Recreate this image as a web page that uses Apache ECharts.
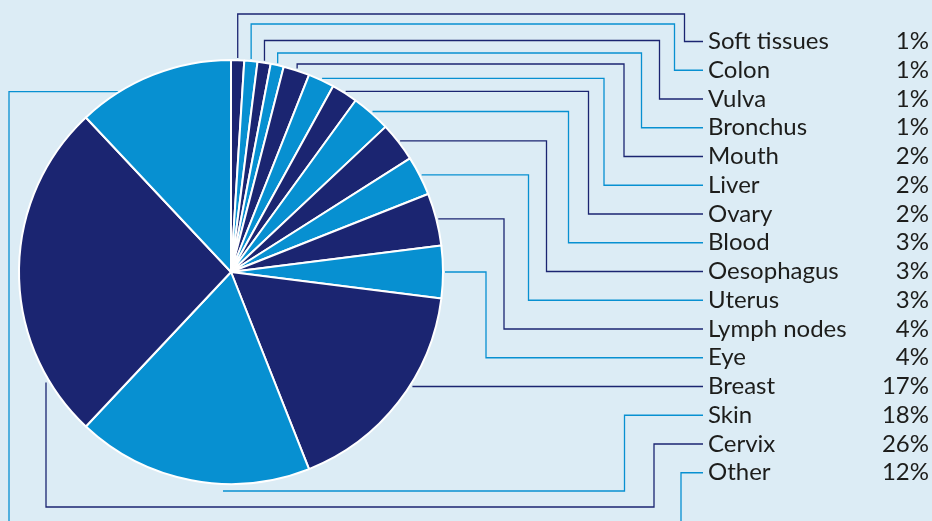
<!DOCTYPE html>
<html>
<head>
<meta charset="utf-8">
<script src="https://cdn.jsdelivr.net/npm/echarts@6/dist/echarts.min.js"></script>
<style>
  html, body { margin: 0; padding: 0; background: #dcecf5; }
  #chart { width: 932px; height: 521px; }
</style>
</head>
<body>
<div id="chart"></div>
<script>
// ---- Data ----
const categories = ['Soft tissues', 'Colon', 'Vulva', 'Bronchus', 'Mouth', 'Liver', 'Ovary', 'Blood',
  'Oesophagus', 'Uterus', 'Lymph nodes', 'Eye', 'Breast', 'Skin', 'Cervix', 'Other'];
const shares = [1, 1, 1, 1, 2, 2, 2, 3, 3, 3, 4, 4, 17, 18, 26, 12];

// ---- Style / layout ----
const DARK = '#1b2571';
const LIGHT = '#0790d1';
const CX = 231, CY = 272, R = 212;
const ROW0 = 41.5, ROW_STEP = 28.75;
const LINE_END = 703, LABEL_X = 708;
// leader-line routing (layout only)
const TOP_RUN = [14, 24, 40.5, 53, 64];
const ELBOW_X = [684.5, 674.5, 659.5, 641.5, 624, 604, 588.5, 568.5, 546.5, 528.5, 504, 486];
const SKIN_ROUTE = { dx: -8, gap: 7, elbow: 624.5 };
const CERVIX_ROUTE = { x: 46, gap: 7, bottom: 507, elbow: 654 };
const OTHER_ROUTE = { run: 91.7, left: 9, bottom: 545, elbow: 681 };

const total = shares.reduce((a, b) => a + b, 0);
function midAngle(i) {
  let c = 0;
  for (let k = 0; k < i; k++) c += shares[k];
  return (c + shares[i] / 2) / total * 2 * Math.PI; // clockwise from 12 o'clock
}
function edgePoint(a, rr) { return [CX + rr * Math.sin(a), CY - rr * Math.cos(a)]; }
function circleX(y, side) { return CX + side * Math.sqrt(Math.max(0, R * R - (y - CY) * (y - CY))); }
function circleY(x, side) { return CY + side * Math.sqrt(Math.max(0, R * R - (x - CX) * (x - CX))); }

function route(i, y) {
  if (i < ELBOW_X.length) {
    const p = edgePoint(midAngle(i), R + 2);
    const run = i < TOP_RUN.length ? Math.min(TOP_RUN[i], p[1]) : p[1];
    return [p, [p[0], run], [ELBOW_X[i], run], [ELBOW_X[i], y], [LINE_END, y]];
  }
  const name = categories[i];
  if (name === 'Breast') {
    return [[circleX(y, 1) + 3, y], [LINE_END, y]];
  }
  if (name === 'Skin') {
    const yb = CY + R + SKIN_ROUTE.gap;
    return [[CX + SKIN_ROUTE.dx, yb], [SKIN_ROUTE.elbow, yb], [SKIN_ROUTE.elbow, y], [LINE_END, y]];
  }
  if (name === 'Cervix') {
    const x = CERVIX_ROUTE.x;
    const y0 = circleY(x, 1) + CERVIX_ROUTE.gap;
    return [[x, y0], [x, CERVIX_ROUTE.bottom], [CERVIX_ROUTE.elbow, CERVIX_ROUTE.bottom],
      [CERVIX_ROUTE.elbow, y], [LINE_END, y]];
  }
  // Other
  const y0 = OTHER_ROUTE.run;
  const x0 = circleX(y0, -1) - 1;
  return [[x0, y0], [OTHER_ROUTE.left, y0], [OTHER_ROUTE.left, OTHER_ROUTE.bottom],
    [OTHER_ROUTE.elbow, OTHER_ROUTE.bottom], [OTHER_ROUTE.elbow, y], [LINE_END, y]];
}

const seriesData = categories.map((name, i) => ({
  name: name,
  value: shares[i],
  itemStyle: { color: i % 2 === 0 ? DARK : LIGHT }
}));

const chart = echarts.init(document.getElementById('chart'), null, { renderer: 'canvas' });
chart.setOption({
  backgroundColor: '#dcecf5',
  animation: false,
  series: [{
    type: 'pie',
    center: [CX, CY],
    radius: R,
    startAngle: 90,
    clockwise: true,
    avoidLabelOverlap: false,
    itemStyle: { borderColor: '#ffffff', borderWidth: 2 },
    emphasis: { disabled: true },
    label: {
      show: true,
      position: 'outside',
      formatter: p => '{n|' + p.name + '}{p|' + p.value + '%}',
      rich: {
        n: { width: 177, align: 'left', fontFamily: 'Lato', fontSize: 24, color: '#1d1d1b', lineHeight: 28 },
        p: { width: 44, align: 'right', fontFamily: 'Lato', fontSize: 24, color: '#1d1d1b', lineHeight: 28 }
      }
    },
    labelLine: { show: true, smooth: false, lineStyle: { width: 1.3 } },
    labelLayout: function (params) {
      const i = params.dataIndex;
      const y = ROW0 + i * ROW_STEP;
      return {
        x: LABEL_X,
        y: y,
        align: 'left',
        verticalAlign: 'middle',
        labelLinePoints: route(i, y)
      };
    },
    data: seriesData
  }]
});
</script>
</body>
</html>
